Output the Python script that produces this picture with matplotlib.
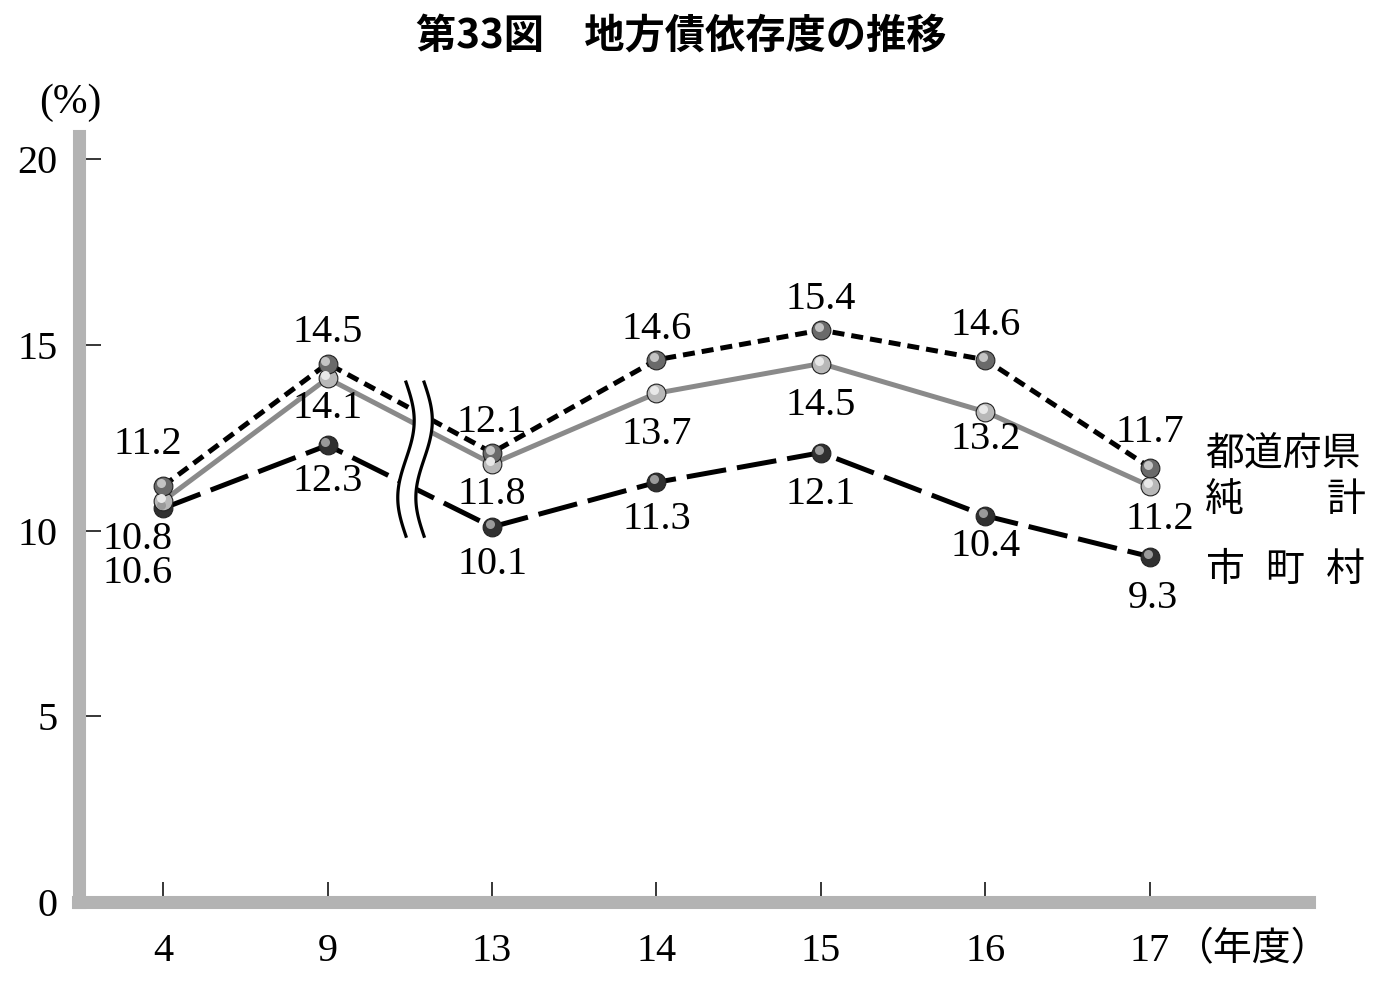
import numpy as np
import matplotlib
matplotlib.use("Agg")
import matplotlib.pyplot as plt

# data (年度, %)
years = ["4", "9", "13", "14", "15", "16", "17"]
pref = [11.2, 14.5, 12.1, 14.6, 15.4, 14.6, 11.7]      # 都道府県
net = [10.8, 14.1, 11.8, 13.7, 14.5, 13.2, 11.2]       # 純計
muni = [10.6, 12.3, 10.1, 11.3, 12.1, 10.4, 9.3]       # 市町村
yticks = [0, 5, 10, 15, 20]

# label offsets in points (dx, dy)
pref_off = [(-11, 30), (0, 22), (0, 22), (0, 22), (0, 22), (0, 25), (0, 25)]
net_off = [(-18, -28), (0, -22), (0, -22), (0, -30), (0, -30), (0, -20), (7, -24)]
muni_off = [(-18, -47), (0, -26), (0, -27), (0, -27), (0, -30), (0, -22), (2, -30)]

serif = "Liberation Serif"
jp = ["Noto Sans CJK JP", "DejaVu Sans"]
fs = 29

fig = plt.figure(figsize=(14, 9.82), dpi=100)
# axes box: y=0 at 902px, spine half-width 6.5px projects past the ends
ax = fig.add_axes([78.5/1400, 80/982, (1308.5-78.5)/1400, (902-135.5)/982])
x = np.arange(len(years))

ax.plot(x, net, color="#8a8a8a", lw=3.6, zorder=3, solid_capstyle="butt")
ax.plot(x, pref, color="black", lw=3.6, dashes=(2.4, 1.4), zorder=3)
ax.plot(x, muni, color="black", lw=3.6, dashes=(8, 2.2), zorder=3)

# sphere-like markers
def balls(ys, base, light):
    ax.plot(x, ys, "o", ms=13.5, mfc=base, mec="#222222", mew=0.8, zorder=5)
    ax.plot(x - 0.014, np.array(ys) + 0.08, "o", ms=6.5, mfc=light, mec="none", zorder=6)

balls(muni, "#303030", "#9a9a9a")
balls(net, "#b8b8b8", "#e8e8e8")
balls(pref, "#6a6a6a", "#c4c4c4")

for ys, offs in ((pref, pref_off), (net, net_off), (muni, muni_off)):
    for i, v in enumerate(ys):
        ax.annotate(f"{v:.1f}", (x[i], v), xytext=offs[i], textcoords="offset points",
                    ha="center", va="center", fontsize=fs, family=serif, zorder=7)

# axis break between 9 and 13
bx = 1.532
t = np.linspace(0, 1, 100)
yy = 14.0 - t * 4.15
wx = bx - 0.055 + 0.05 * np.sin(t * 2 * np.pi)
ax.fill_betweenx(yy, wx, wx + 0.11, color="white", zorder=4)
ax.plot(wx, yy, color="black", lw=2.3, zorder=4)
ax.plot(wx + 0.11, yy, color="black", lw=2.3, zorder=4)

ax.set_xlim(-0.514, 6.964)
ax.set_ylim(0, 20.64)
ax.set_xticks(x)
ax.set_xticklabels(years)
ax.set_yticks(yticks)
ax.set_yticklabels([str(v) for v in yticks])
for s in ("top", "right"):
    ax.spines[s].set_visible(False)
for s in ("left", "bottom"):
    ax.spines[s].set_color("#b3b3b3")
    ax.spines[s].set_linewidth(9.4)
    ax.spines[s].set_capstyle("projecting")
ax.tick_params(axis="y", direction="in", length=15.5, width=1.1, pad=15, labelsize=fs)
ax.tick_params(axis="x", direction="in", length=14.4, width=1.1, pad=22, labelsize=fs)
for lab in ax.get_xticklabels() + ax.get_yticklabels():
    lab.set_family(serif)

fig.text(70/1400, 1 - 103/982, "(%)", ha="center", va="center", fontsize=fs + 1, family=serif)
fig.text(1253/1400, 1 - 949/982, "（年度）", ha="center", va="center", fontsize=28, family=jp)
fig.text(681/1400, 1 - 36/982, "第33図　地方債依存度の推移", ha="center", va="center",
         fontsize=29, family=jp, fontweight="bold")

# series names at the right end
lx = 1205/1400
fig.text(lx, 1 - 455/982, "都道府県", ha="left", va="center", fontsize=28, family=jp)
fig.text(lx, 1 - 500/982, "純", ha="left", va="center", fontsize=28, family=jp)
fig.text(1365/1400, 1 - 500/982, "計", ha="right", va="center", fontsize=28, family=jp)
for ch, cx in zip("市町村", (1225, 1285, 1345)):
    fig.text(cx/1400, 1 - 570/982, ch, ha="center", va="center", fontsize=28, family=jp)

fig.savefig("out.png", dpi=100)
